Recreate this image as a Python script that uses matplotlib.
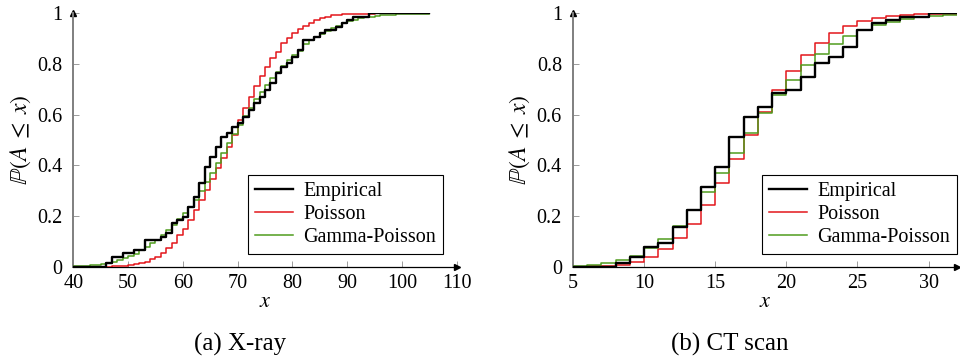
import numpy as np
import matplotlib
matplotlib.use('Agg')
import matplotlib.pyplot as plt

# X-ray: counts 40..105
xray_x = np.arange(40, 106)
xray_emp = [0, 0, 0, 0, 0, 0, 0.013, 0.039, 0.039, 0.053,
            0.053, 0.066, 0.066, 0.105, 0.105, 0.105, 0.118, 0.132, 0.171, 0.184,
            0.197, 0.237, 0.276, 0.329, 0.395, 0.434, 0.474, 0.513, 0.526, 0.553,
            0.566, 0.592, 0.618, 0.645, 0.671, 0.697, 0.724, 0.763, 0.789, 0.803,
            0.829, 0.855, 0.895, 0.895, 0.908, 0.921, 0.934, 0.934, 0.947, 0.961,
            0.974, 0.987, 0.987, 0.987, 1, 1, 1, 1, 1, 1,
            1, 1, 1, 1, 1, 1]
xray_pois = [0, 0, 0, 0, 0, 0, 0, 0.001, 0.002, 0.004,
             0.007, 0.010, 0.013, 0.020, 0.030, 0.040, 0.053, 0.072, 0.092, 0.125,
             0.150, 0.184, 0.224, 0.263, 0.303, 0.346, 0.388, 0.428, 0.474, 0.520,
             0.579, 0.625, 0.670, 0.713, 0.753, 0.790, 0.822, 0.849, 0.882, 0.901,
             0.921, 0.937, 0.950, 0.963, 0.974, 0.980, 0.987, 0.992, 0.995, 0.996,
             0.997, 0.998, 0.998, 0.999, 0.999, 1, 1, 1, 1, 1,
             1, 1, 1, 1, 1, 1]
xray_gp = [0.002, 0.003, 0.004, 0.005, 0.007, 0.010, 0.014, 0.019, 0.025, 0.033,
           0.042, 0.052, 0.064, 0.078, 0.092, 0.107, 0.124, 0.143, 0.164, 0.187,
           0.210, 0.236, 0.263, 0.300, 0.335, 0.370, 0.410, 0.450, 0.487, 0.525,
           0.560, 0.595, 0.628, 0.660, 0.690, 0.718, 0.745, 0.770, 0.793, 0.815,
           0.835, 0.853, 0.880, 0.893, 0.905, 0.917, 0.930, 0.940, 0.950, 0.960,
           0.968, 0.975, 0.980, 0.984, 0.987, 0.990, 0.992, 0.994, 0.995, 0.996,
           0.997, 0.998, 0.998, 0.999, 0.999, 0.999]

# CT scan: counts 5..32
ct_x = np.arange(5, 33)
ct_emp = [0, 0, 0, 0.013, 0.039, 0.079, 0.092, 0.158, 0.224, 0.316,
          0.395, 0.513, 0.592, 0.632, 0.684, 0.697, 0.750, 0.803, 0.829, 0.868,
          0.934, 0.961, 0.974, 0.987, 0.987, 1, 1, 1]
ct_pois = [0, 0.001, 0.003, 0.008, 0.020, 0.039, 0.068, 0.113, 0.170, 0.245,
           0.330, 0.424, 0.520, 0.612, 0.697, 0.772, 0.836, 0.884, 0.922, 0.950,
           0.968, 0.982, 0.988, 0.993, 0.996, 0.998, 0.999, 1]
ct_gp = [0.002, 0.006, 0.013, 0.025, 0.043, 0.072, 0.110, 0.160, 0.222, 0.293,
         0.370, 0.450, 0.528, 0.605, 0.676, 0.738, 0.795, 0.840, 0.878, 0.910,
         0.935, 0.953, 0.967, 0.977, 0.985, 0.990, 0.993, 0.995]

plt.rcParams['font.family'] = 'Liberation Serif'
plt.rcParams['mathtext.fontset'] = 'stix'
plt.rcParams['font.size'] = 14

RED = '#e3161b'
GREEN = '#4f9c1e'


def draw_panel(ax, x, emp, pois, gp, xlim, xticks, legend_right):
    ax.step(x, emp, where='post', color='black', lw=1.7, label='Empirical', zorder=4)
    ax.step(x, pois, where='post', color=RED, lw=1.1, label='Poisson', zorder=3)
    ax.step(x, gp, where='post', color=GREEN, lw=1.1, label='Gamma-Poisson', zorder=3)

    ax.set_xlim(*xlim)
    ax.set_ylim(0, 1)
    ax.set_xticks(xticks)
    ax.set_yticks([0, 0.2, 0.4, 0.6, 0.8, 1])
    ax.set_yticklabels(['0', '0.2', '0.4', '0.6', '0.8', '1'])

    ax.spines['top'].set_visible(False)
    ax.spines['right'].set_visible(False)
    ax.spines['left'].set_color('#7f7f7f')
    ax.spines['left'].set_linewidth(1.4)
    ax.spines['bottom'].set_linewidth(0.9)
    ax.tick_params(direction='in', length=4, width=0.6, color='#8c8c8c',
                   labelsize=14.5)
    ax.tick_params(axis='y', pad=8)
    ax.tick_params(axis='x', pad=5)

    # arrow tips at the axis ends
    ax.plot(1, 0, '>', color='black', ms=4, transform=ax.transAxes, clip_on=False)
    ax.plot(0, 1, '^', color='black', ms=4, transform=ax.transAxes, clip_on=False)

    ax.set_xlabel(r'$x$', fontsize=16, labelpad=0)
    ax.set_ylabel(r'$\mathbb{P}(A\;\leq\;x)$', fontsize=17, labelpad=3)

    leg = ax.legend(loc='lower right', bbox_to_anchor=(legend_right, 0.05),
                    fontsize=14.5, frameon=True, fancybox=False, framealpha=1,
                    edgecolor='black', handlelength=1.9, handletextpad=0.5,
                    labelspacing=0.2, borderpad=0.35, borderaxespad=0)
    leg.get_frame().set_linewidth(0.8)


fig = plt.figure(figsize=(9.6, 3.64), dpi=100)
ax1 = fig.add_axes([0.0764, 0.2673, 0.3993, 0.6962])
ax2 = fig.add_axes([0.5969, 0.2673, 0.4000, 0.6962])

draw_panel(ax1, xray_x, xray_emp, xray_pois, xray_gp, (40, 110), range(40, 111, 10), 0.964)
draw_panel(ax2, ct_x, ct_emp, ct_pois, ct_gp, (5, 32), range(5, 31, 5), 1.0)

fig.text(0.25, 0.038, '(a) X-ray', ha='center', fontsize=18)
fig.text(0.76, 0.038, '(b) CT scan', ha='center', fontsize=18)

fig.savefig('out.png', dpi=100)
